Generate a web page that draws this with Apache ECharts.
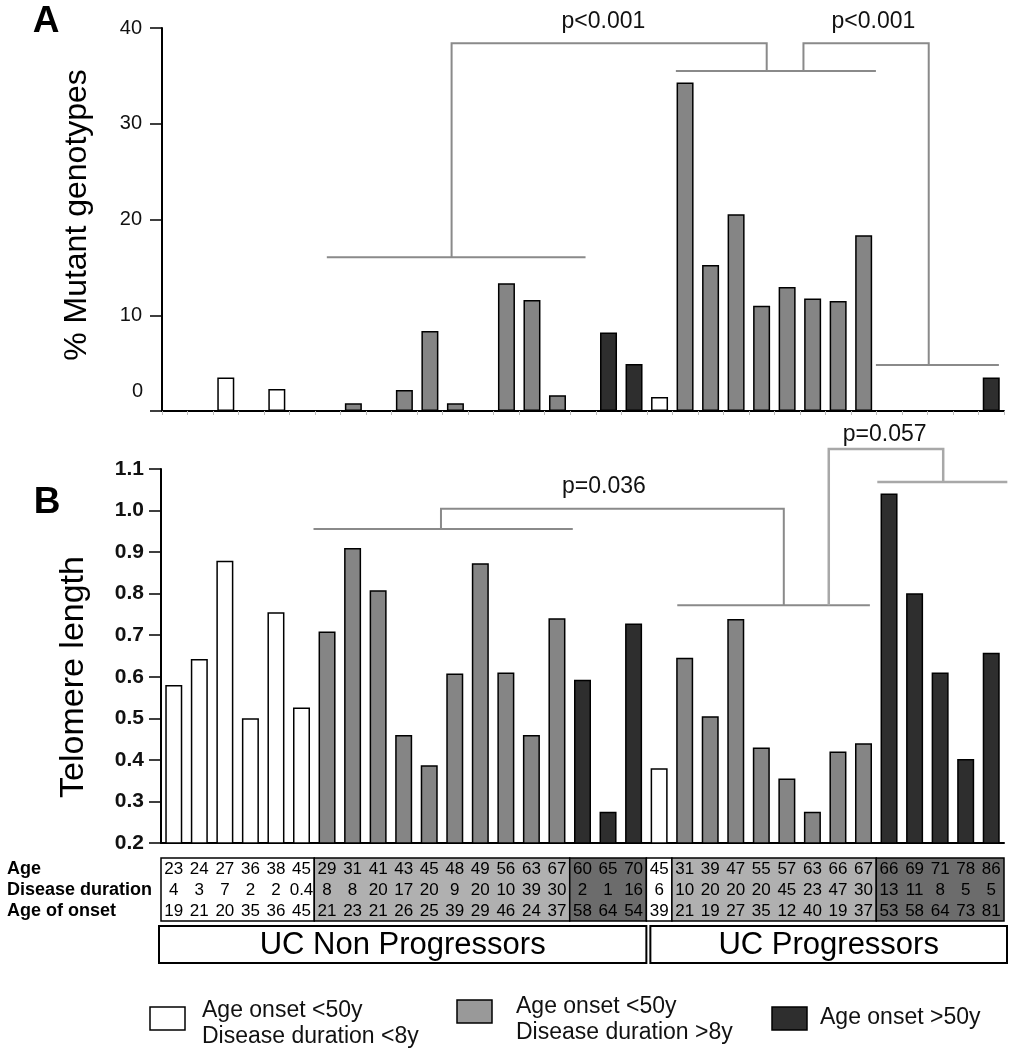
<!DOCTYPE html>
<html><head><meta charset="utf-8">
<script src="https://cdn.jsdelivr.net/npm/echarts@6/dist/echarts.min.js"></script>
<style>html,body{margin:0;padding:0;background:#fff}#c{width:1013px;height:1050px}</style>
</head><body><div id="c"></div>
<script>
// ---- data ----
const samples = ['1','2','3','4','5','6','7','8','9','10','11','12','13','14','15','16','17','18','19','20','21','22','23','24','25','26','27','28','29','30','31','32','33'];
// group: W = onset <50y & duration <8y, G = onset <50y & duration >8y, D = onset >50y
const groups = ['W','W','W','W','W','W','G','G','G','G','G','G','G','G','G','G','D','D','D','W','G','G','G','G','G','G','G','G','D','D','D','D','D'];
const ages = [23,24,27,36,38,45,29,31,41,43,45,48,49,56,63,67,60,65,70,45,31,39,47,55,57,63,66,67,66,69,71,78,86];
const durations = [4,3,7,2,2,0.4,8,8,20,17,20,9,20,10,39,30,2,1,16,6,10,20,20,20,45,23,47,30,13,11,8,5,5];
const onsets = [19,21,20,35,36,45,21,23,21,26,25,39,29,46,24,37,58,64,54,39,21,19,27,35,12,40,19,37,53,58,64,73,81];
const mutant = [0,0,3.5,0,2.3,0,0,0.8,0,2.2,8.35,0.8,0,13.35,11.6,1.65,0,8.2,4.9,1.45,34.3,15.25,20.55,11.0,12.95,11.75,11.5,18.35,0,0,0,0,3.5];
const telomere = [0.58,0.643,0.879,0.50,0.755,0.526,0.709,0.91,0.808,0.46,0.387,0.608,0.873,0.61,0.46,0.741,0.593,0.275,0.728,0.38,0.646,0.505,0.739,0.43,0.355,0.275,0.42,0.44,1.041,0.801,0.61,0.402,0.658];
const mutantTicks = [0,10,20,30,40];
const telomereTicks = [0.2,0.3,0.4,0.5,0.6,0.7,0.8,0.9,1.0,1.1];
const cohortNames = ['UC Non Progressors','UC Progressors'];
const cohortSplit = 19; // first progressor sample index
const rowLabels = ['Age','Disease duration','Age of onset'];
const legendItems = [
  {g:'W', lines:['Age onset <50y','Disease duration <8y']},
  {g:'G', lines:['Age onset <50y','Disease duration >8y']},
  {g:'D', lines:['Age onset >50y']}
];
// significance brackets: [category-index position, value]
const bracketsA = [
  {pts:[[5.96,16.05],[16.1,16.05]]},
  {pts:[[10.85,16.05],[10.85,38.4],[23.2,38.4],[23.2,35.5]]},
  {pts:[[19.64,35.5],[27.48,35.5]]},
  {pts:[[24.64,35.5],[24.64,38.4],[29.55,38.4],[29.55,4.8]]},
  {pts:[[27.48,4.8],[32.3,4.8]]}
];
const pLabelsA = [{t:'p<0.001', at:[16.8,40.7]},{t:'p<0.001', at:[27.38,40.7]}];
const bracketsB = [
  {pts:[[5.47,0.9555],[15.62,0.9555]], light:false},
  {pts:[[10.46,0.9555],[10.46,1.0044],[23.88,1.0044],[23.88,0.772]], light:false},
  {pts:[[19.71,0.772],[27.25,0.772]], light:false},
  {pts:[[25.64,0.772],[25.64,1.148],[30.12,1.148],[30.12,1.069]], light:true},
  {pts:[[27.54,1.069],[32.63,1.069]], light:true}
];
const pLabelsB = [{t:'p=0.036', at:[16.84,1.057]},{t:'p=0.057', at:[27.83,1.182]}];

// ---- style ----
const FONT = 'Liberation Sans, Arial, Helvetica, sans-serif';
const barFill = {W:'#ffffff', G:'#858585', D:'#2e2e2e'};
const cellFill = {W:'#ffffff', G:'#b0b0b0', D:'#6c6c6c'};

const chart = echarts.init(document.getElementById('c'), null, {renderer:'canvas'});
function barData(vals){ return vals.map((v,i)=>({value:v, itemStyle:{color:barFill[groups[i]]}})); }

chart.setOption({
  animation:false,
  backgroundColor:'#fff',
  textStyle:{fontFamily:FONT},
  grid:[
    {left:162, right:9, top:28, height:383},
    {left:161, right:9, top:469, height:374}
  ],
  xAxis:[
    {gridIndex:0, type:'category', data:samples, axisLabel:{show:false},
     axisLine:{lineStyle:{color:'#000', width:2}},
     axisTick:{show:true, length:4, lineStyle:{color:'#bbb'}}},
    {gridIndex:1, type:'category', data:samples, axisLabel:{show:false},
     axisLine:{lineStyle:{color:'#000', width:2}}, axisTick:{show:false}}
  ],
  yAxis:[
    {gridIndex:0, type:'value', min:mutantTicks[0], max:mutantTicks[mutantTicks.length-1], interval:10,
     axisLine:{show:true, lineStyle:{color:'#000', width:2}},
     axisTick:{show:true, length:12, lineStyle:{color:'#000', width:1.5}},
     axisLabel:{margin:20, fontSize:20, color:'#111', fontFamily:FONT, formatter:v=> v===0 ? '' : String(v)},
     splitLine:{show:false}},
    {gridIndex:1, type:'value', min:telomereTicks[0], max:telomereTicks[telomereTicks.length-1], interval:0.1,
     axisLine:{show:true, lineStyle:{color:'#000', width:2}},
     axisTick:{show:true, length:12, lineStyle:{color:'#000', width:1.5}},
     axisLabel:{margin:17, fontSize:21, fontWeight:'bold', color:'#111', fontFamily:FONT, formatter:v=> v.toFixed(1)},
     splitLine:{show:false}}
  ],
  series:[
    {type:'bar', xAxisIndex:0, yAxisIndex:0, data:barData(mutant), barWidth:17, silent:true,
     itemStyle:{borderColor:'#000', borderWidth:1.5}},
    {type:'bar', xAxisIndex:1, yAxisIndex:1, data:barData(telomere), barWidth:17, silent:true,
     itemStyle:{borderColor:'#000', borderWidth:1.5}}
  ]
});

// ---- annotations computed from the axes ----
function X(k,f){ const a=chart.convertToPixel({xAxisIndex:k},0), b=chart.convertToPixel({xAxisIndex:k},1); return a+f*(b-a); }
function Y(k,v){ return chart.convertToPixel({yAxisIndex:k},v); }
const g = [];
function txt(x,y,text,font,opt){ g.push(Object.assign({type:'text', x:x, y:y, silent:true, style:Object.assign({text:text, font:font, fill:'#000', align:'center', verticalAlign:'middle'}, (opt&&opt.style)||{})}, (opt&&opt.el)||{})); }

bracketsA.forEach(b=>g.push({type:'polyline', silent:true, shape:{points:b.pts.map(p=>[X(0,p[0]),Y(0,p[1])])}, style:{stroke:'#8a8a8a', lineWidth:2, fill:null}}));
pLabelsA.forEach(p=>txt(X(0,p.at[0]),Y(0,p.at[1]),p.t,'23px '+FONT,{style:{fill:'#111'}}));
bracketsB.forEach(b=>g.push({type:'polyline', silent:true, shape:{points:b.pts.map(p=>[X(1,p[0]),Y(1,p[1])])}, style:{stroke:b.light?'#a8a8a8':'#8a8a8a', lineWidth:b.light?2.5:2, fill:null}}));
pLabelsB.forEach(p=>txt(X(1,p.at[0]),Y(1,p.at[1]),p.t,'23px '+FONT,{style:{fill:'#111'}}));

// zero label of panel A (raised, as in the original)
txt(143, Y(0,2.0), String(mutantTicks[0]), '20px '+FONT, {style:{align:'right', fill:'#111'}});
// panel letters & axis titles
txt(46, 22, 'A', 'bold 37px '+FONT);
txt(47, 503, 'B', 'bold 37px '+FONT);
txt(77, 215, '% Mutant genotypes', '32px '+FONT, {el:{rotation:Math.PI/2}});
txt(74, 677, 'Telomere length', '34px '+FONT, {el:{rotation:Math.PI/2}});

// table under panel B
const w = X(1,1)-X(1,0);
const tTop = 858, rowH = 21;
let s = 0;
for (let i=1;i<=groups.length;i++){
  if (i===groups.length || groups[i]!==groups[s] || i===cohortSplit){
    g.push({type:'rect', silent:true, shape:{x:X(1,s)-w/2, y:tTop, width:(i-s)*w, height:rowH*3},
      style:{fill:cellFill[groups[s]], stroke:'#000', lineWidth:1.5}});
    s = i;
  }
}
const rows = [ages, durations, onsets];
rows.forEach((r,ri)=>{
  txt(7, tTop+rowH*ri+rowH/2+1, rowLabels[ri], 'bold 18px '+FONT, {style:{align:'left'}});
  r.forEach((v,i)=>txt(X(1,i), tTop+rowH*ri+rowH/2+1, String(v), '17px '+FONT));
});
// cohort boxes
const bTop = 926, bH = 37;
const c0 = X(1,0)-w/2-2, c1 = X(1,cohortSplit)-w/2, c2 = X(1,samples.length-1)+w/2+3;
g.push({type:'rect', silent:true, shape:{x:c0, y:bTop, width:c1-c0, height:bH}, style:{fill:'#fff', stroke:'#000', lineWidth:2}});
g.push({type:'rect', silent:true, shape:{x:c1+4, y:bTop, width:c2-c1-4, height:bH}, style:{fill:'#fff', stroke:'#000', lineWidth:2}});
txt((c0+c1)/2, bTop+bH/2+1, cohortNames[0], '31px '+FONT);
txt((c1+4+c2)/2, bTop+bH/2+1, cohortNames[1], '31px '+FONT);

// legend
const legPos = [{bx:150, by:1007, tx:202, ty:1011},{bx:457, by:1000, tx:516, ty:1007},{bx:772, by:1007, tx:820, ty:1018}];
legendItems.forEach((it,k)=>{
  const p = legPos[k];
  g.push({type:'rect', silent:true, shape:{x:p.bx, y:p.by, width:35, height:23}, style:{fill:it.g==='G'?'#999':barFill[it.g], stroke:'#000', lineWidth:1.5}});
  it.lines.forEach((l,j)=>txt(p.tx, p.ty+j*26, l, '23px '+FONT, {style:{align:'left', fill:'#111'}}));
});

chart.setOption({graphic:{elements:g}});
</script>
</body></html>
